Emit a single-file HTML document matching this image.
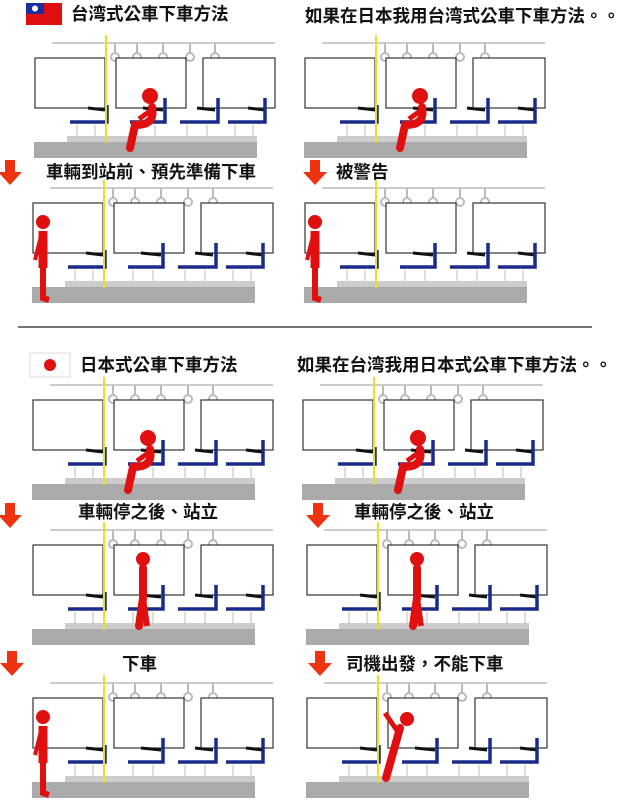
<!DOCTYPE html>
<html><head><meta charset="utf-8"><style>
body{margin:0;width:628px;height:800px;background:#fff;position:relative;overflow:hidden;font-family:"Liberation Sans","Noto Sans CJK TC",sans-serif;}
.t{position:absolute;font-weight:bold;font-size:17.5px;color:#111;white-space:nowrap;line-height:20px;}
svg{position:absolute;left:0;top:0}
</style></head><body>
<svg width="628" height="800" viewBox="0 0 628 800">
<defs>
<g id="bus">
<line x1="17" y1="0" x2="240" y2="0" stroke="#ccc" stroke-width="2"/>
<g stroke="#bbb" stroke-width="2" fill="#fff">
<line x1="80" y1="0" x2="80" y2="10"/><circle cx="80" cy="14" r="4"/>
<line x1="102" y1="0" x2="102" y2="10"/><circle cx="102" cy="14" r="4"/>
<line x1="128" y1="0" x2="128" y2="10"/><circle cx="128" cy="14" r="4"/>
<line x1="155" y1="0" x2="155" y2="10"/><circle cx="155" cy="14" r="4"/>
<line x1="180" y1="0" x2="180" y2="10"/><circle cx="180" cy="14" r="4"/>
</g>
<g fill="#fff" stroke="#333" stroke-width="1.2">
<rect x="0" y="15" width="70" height="50"/>
<rect x="81" y="15" width="70" height="50"/>
<rect x="168" y="15" width="72" height="50"/>
</g>
<g stroke="#bbb" stroke-width="1">
<line x1="42" y1="82" x2="42" y2="93"/><line x1="60" y1="82" x2="60" y2="93"/>
<line x1="100" y1="82" x2="100" y2="93"/><line x1="120" y1="82" x2="120" y2="93"/>
<line x1="152" y1="82" x2="152" y2="93"/><line x1="172" y1="82" x2="172" y2="93"/>
<line x1="200" y1="82" x2="200" y2="93"/><line x1="218" y1="82" x2="218" y2="93"/>
</g>
<rect x="32" y="93" width="190" height="6" fill="#ccc"/>
<rect x="-1" y="99" width="223" height="16" fill="#aaa"/>
<g stroke="#111" stroke-width="3">
<line x1="53" y1="65" x2="70" y2="67"/><line x1="108" y1="65" x2="128" y2="67"/>
<line x1="162" y1="65" x2="180" y2="67"/><line x1="213" y1="65" x2="230" y2="67"/>
</g>
<g stroke="#1a2a8a" stroke-width="3.5" fill="none">
<path d="M35 79 H72 V62"/><path d="M95 79 H130 V55"/><path d="M145 79 H183 V55"/><path d="M193 79 H230 V55"/>
</g>
<line x1="71" y1="-8" x2="71" y2="100" stroke="#e8e020" stroke-width="2"/>
</g>
<g id="arrow"><rect x="-5" y="0" width="10" height="13" fill="#e31"/><polygon points="-12,12 12,12 0,25" fill="#e31"/></g>
<g id="sit" fill="#e01010" stroke="#e01010">
<circle cx="115" cy="53" r="8" stroke="none"/>
<path d="M117 64 C120 80 110 82 100 82 L95 105" fill="none" stroke-width="8" stroke-linecap="round"/>
<path d="M115 68 L104 76" fill="none" stroke-width="5"/>
</g>
<g id="stand" fill="#e01010" stroke="#e01010">
<circle cx="110" cy="29" r="7" stroke="none"/>
<path d="M110 38 L110 68 L106 96" fill="none" stroke-width="8" stroke-linecap="round"/>
<path d="M110 68 L114 96" fill="none" stroke-width="6"/>
</g>
<g id="door" fill="#e01010" stroke="#e01010">
<circle cx="10" cy="34" r="7" stroke="none"/>
<path d="M10 43 L10 80" fill="none" stroke-width="9"/>
<path d="M10 80 L10 110 L16 112" fill="none" stroke-width="6"/>
<path d="M8 48 L2 72" fill="none" stroke-width="4"/>
</g>
</defs>
<rect x="26" y="3" width="36" height="22" fill="#e01010"/><rect x="26" y="3" width="18" height="11" fill="#1a2ea0"/><circle cx="35" cy="8.5" r="3" fill="#fff"/>
<rect x="30" y="353" width="40" height="24" fill="#fff" stroke="#ddd"/><circle cx="50" cy="365" r="6" fill="#e01010"/>
<line x1="18" y1="327" x2="592" y2="327" stroke="#222" stroke-width="1.2"/>
<use href="#bus" x="35" y="43"/><use href="#sit" x="35" y="43"/>
<use href="#bus" x="305" y="43"/><use href="#sit" x="305" y="43"/>
<use href="#arrow" x="10" y="160"/><use href="#arrow" x="315" y="160"/>
<use href="#bus" x="33" y="188"/><use href="#door" x="33" y="188"/>
<use href="#bus" x="305" y="188"/><use href="#door" x="305" y="188"/>
<use href="#bus" x="33" y="385"/><use href="#sit" x="33" y="385"/>
<use href="#bus" x="303" y="385"/><use href="#sit" x="303" y="385"/>
<use href="#arrow" x="10" y="503"/><use href="#arrow" x="318" y="503"/>
<use href="#bus" x="33" y="530"/><use href="#stand" x="33" y="530"/>
<use href="#bus" x="307" y="530"/><use href="#stand" x="307" y="530"/>
<use href="#arrow" x="12" y="651"/><use href="#arrow" x="320" y="651"/>
<use href="#bus" x="33" y="683"/><use href="#door" x="33" y="683"/>
<use href="#bus" x="307" y="683"/>
<g fill="#e01010" stroke="#e01010">
<circle cx="407" cy="719" r="7" stroke="none"/>
<path d="M400 728 L386 778" fill="none" stroke-width="8" stroke-linecap="round"/>
<path d="M398 732 L385 713" fill="none" stroke-width="5"/>
</g>
</svg>
<div class="t" style="left:71px;top:4px">台湾式公車下車方法</div>
<div class="t" style="left:305px;top:6px">如果在日本我用台湾式公車下車方法。。</div>
<div class="t" style="left:46px;top:162px">車輛到站前、預先準備下車</div>
<div class="t" style="left:336px;top:162px">被警告</div>
<div class="t" style="left:80px;top:355px">日本式公車下車方法</div>
<div class="t" style="left:297px;top:355px">如果在台湾我用日本式公車下車方法。。</div>
<div class="t" style="left:78px;top:502px">車輛停之後、站立</div>
<div class="t" style="left:354px;top:502px">車輛停之後、站立</div>
<div class="t" style="left:122px;top:654px">下車</div>
<div class="t" style="left:346px;top:654px">司機出發，不能下車</div>
</body></html>
